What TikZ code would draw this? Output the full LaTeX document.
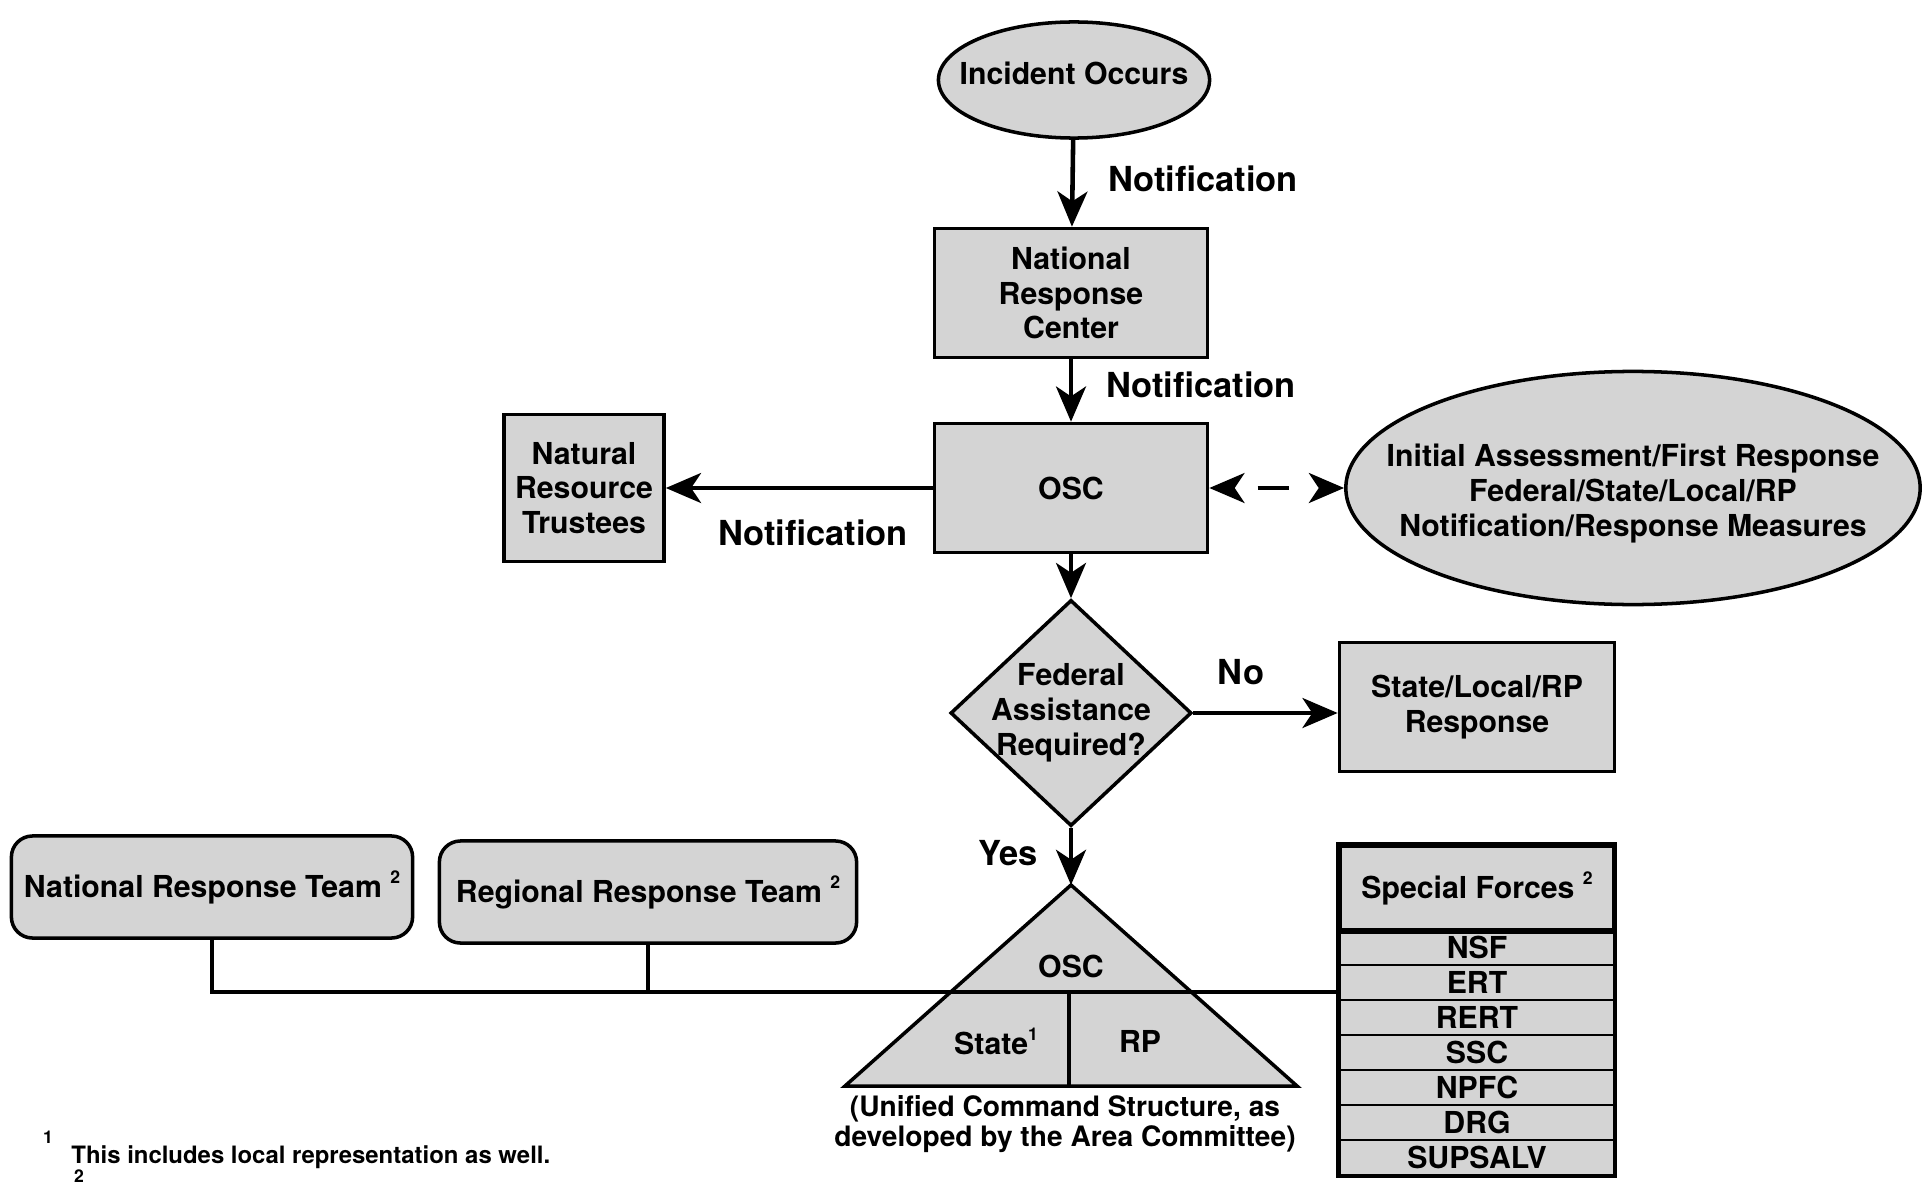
\documentclass[tikz,border=0pt]{standalone}
\usepackage{fontspec}
\setmainfont{TeX Gyre Heros}
\usepackage{tikz}
\usetikzlibrary{shapes.geometric,arrows.meta}
\tikzset{>={Stealth[length=10pt,width=8.5pt,inset=2.8pt]}}
\colorlet{stipple}{black!17}
\newcommand{\txt}{\bfseries\fontsize{8.6}{9.9}\selectfont}
\newcommand{\lbltxt}{\bfseries\fontsize{9.8}{11}\selectfont}
\newcommand{\captxt}{\bfseries\fontsize{8}{8.6}\selectfont}
\newcommand{\notetxt}{\bfseries\fontsize{6.8}{7.5}\selectfont}
\newcommand{\supnum}[1]{\raisebox{0.85ex}{\fontsize{5}{5}\selectfont #1}}

\begin{document}
\begin{tikzpicture}[x=0.01cm,y=-0.01cm,font=\txt,line width=1pt,
    box/.style={draw,fill=stipple,align=center,inner sep=2pt},
    oval/.style={draw,fill=stipple,ellipse,inner sep=0pt},
    flow/.style={->,line width=1.3pt},
    lbl/.style={font=\lbltxt}]

    \fill[white] (0,0) rectangle (1927,1182);
    \useasboundingbox (0,0) rectangle (1927,1182);

    \node[oval,minimum width=2.71cm,minimum height=1.16cm,label={[yshift=2pt]center:Incident Occurs}] (inc) at (1074,80) {};
    \node[box,minimum width=2.73cm,minimum height=1.29cm] (nrc) at (1071,293) {National\\Response\\Center};
    \node[box,minimum width=2.73cm,minimum height=1.29cm] (osc) at (1071,488) {OSC};
    \node[box,minimum width=1.6cm,minimum height=1.47cm] (trust) at (584,488) {Natural\\Resource\\Trustees};
    \node[oval,minimum width=5.74cm,minimum height=2.33cm,
      label={[align=center,yshift=-1.5pt]center:Initial Assessment/First Response\\Federal/State/Local/RP\\Notification/Response Measures}] (first) at (1633,488) {};
    \node[diamond,draw,fill=stipple,minimum width=2.41cm,minimum height=2.26cm,inner sep=0pt,
      label={[align=center]center:Federal\\Assistance\\Required?}] (fed) at (1071,713) {};
    \node[box,minimum width=2.75cm,minimum height=1.29cm] (slr) at (1477,707) {State/Local/RP\\Response};

    \node[lbl] (note1) at (1203,179) {Notification};
    \node[lbl] (note2) at (1201,385) {Notification};
    \node[lbl] (note3) at (813,533) {Notification};
    \node[lbl] (no) at (1241,672) {No};
    \node[lbl] (yes) at (1008,853) {Yes};

    % unified command
    \coordinate (apex) at (1071,885);
    \draw[fill=stipple] (apex) -- (1297,1086) -- (845,1086) -- cycle;
    \draw (1069,992) -- (1069,1086);
    \node (ucosc) at (1071,966) {OSC};
    \node (state) at (996,1041) {State\supnum{1}};
    \node (rp) at (1140,1041) {RP};
    \node[align=center,font=\captxt] (caption) at (1065,1124) {(Unified Command Structure, as\\developed by the Area Committee)};

    \node[box,rounded corners=6pt,minimum width=4.01cm,minimum height=1.02cm] (nrt) at (212,887) {National Response Team \supnum{2}};
    \node[box,rounded corners=6pt,minimum width=4.17cm,minimum height=1.02cm] (rrt) at (648,892) {Regional Response Team \supnum{2}};

    % special forces
    \node[box,minimum width=2.74cm,minimum height=0.84cm,inner sep=0pt] (sf) at (1477,888) {\raisebox{-2pt}{Special Forces \supnum{2}}};
    \node[box,line width=0.5pt,minimum width=2.74cm,minimum height=0.35cm,inner sep=0pt] (nsf) at (1477,947.5) {NSF};
    \node[box,line width=0.5pt,minimum width=2.74cm,minimum height=0.35cm,inner sep=0pt] (ert) at (1477,982.5) {ERT};
    \node[box,line width=0.5pt,minimum width=2.74cm,minimum height=0.35cm,inner sep=0pt] (rert) at (1477,1017.5) {RERT};
    \node[box,line width=0.5pt,minimum width=2.74cm,minimum height=0.35cm,inner sep=0pt] (ssc) at (1477,1052.5) {SSC};
    \node[box,line width=0.5pt,minimum width=2.74cm,minimum height=0.35cm,inner sep=0pt] (npfc) at (1477,1087.5) {NPFC};
    \node[box,line width=0.5pt,minimum width=2.74cm,minimum height=0.35cm,inner sep=0pt] (drg) at (1477,1122.5) {DRG};
    \node[box,line width=0.5pt,minimum width=2.74cm,minimum height=0.35cm,inner sep=0pt] (supsalv) at (1477,1157.5) {SUPSALV};
    \draw (sf.north west) rectangle (supsalv.south east);
    \draw (sf.south west) -- (sf.south east);

    \draw[flow] (inc) -- (nrc);
    \draw[flow] (nrc) -- (osc);
    \draw[flow] (osc) -- (trust);
    \draw[flow,<->,dash pattern=on 0pt off 7pt on 8.8pt off 30pt] (osc) -- (first);
    \draw[flow] (osc) -- (fed);
    \draw[flow] (fed.east) -- (fed.east -| slr.west);
    \draw[flow] (fed) -- (apex);

    \coordinate (join) at (1340,992);
    \draw (nrt.south) |- (join);
    \draw (rrt.south) -- (rrt.south |- join);

    % footnotes
    \node[font=\bfseries\fontsize{5}{5}\selectfont] (fn1) at (48,1137) {1};
    \node[anchor=west,font=\notetxt] (fntext) at (58,1157) {This includes local representation as well.};
    \node[font=\bfseries\fontsize{5}{5}\selectfont] (fn2) at (79,1176) {2};
\end{tikzpicture}
\end{document}
